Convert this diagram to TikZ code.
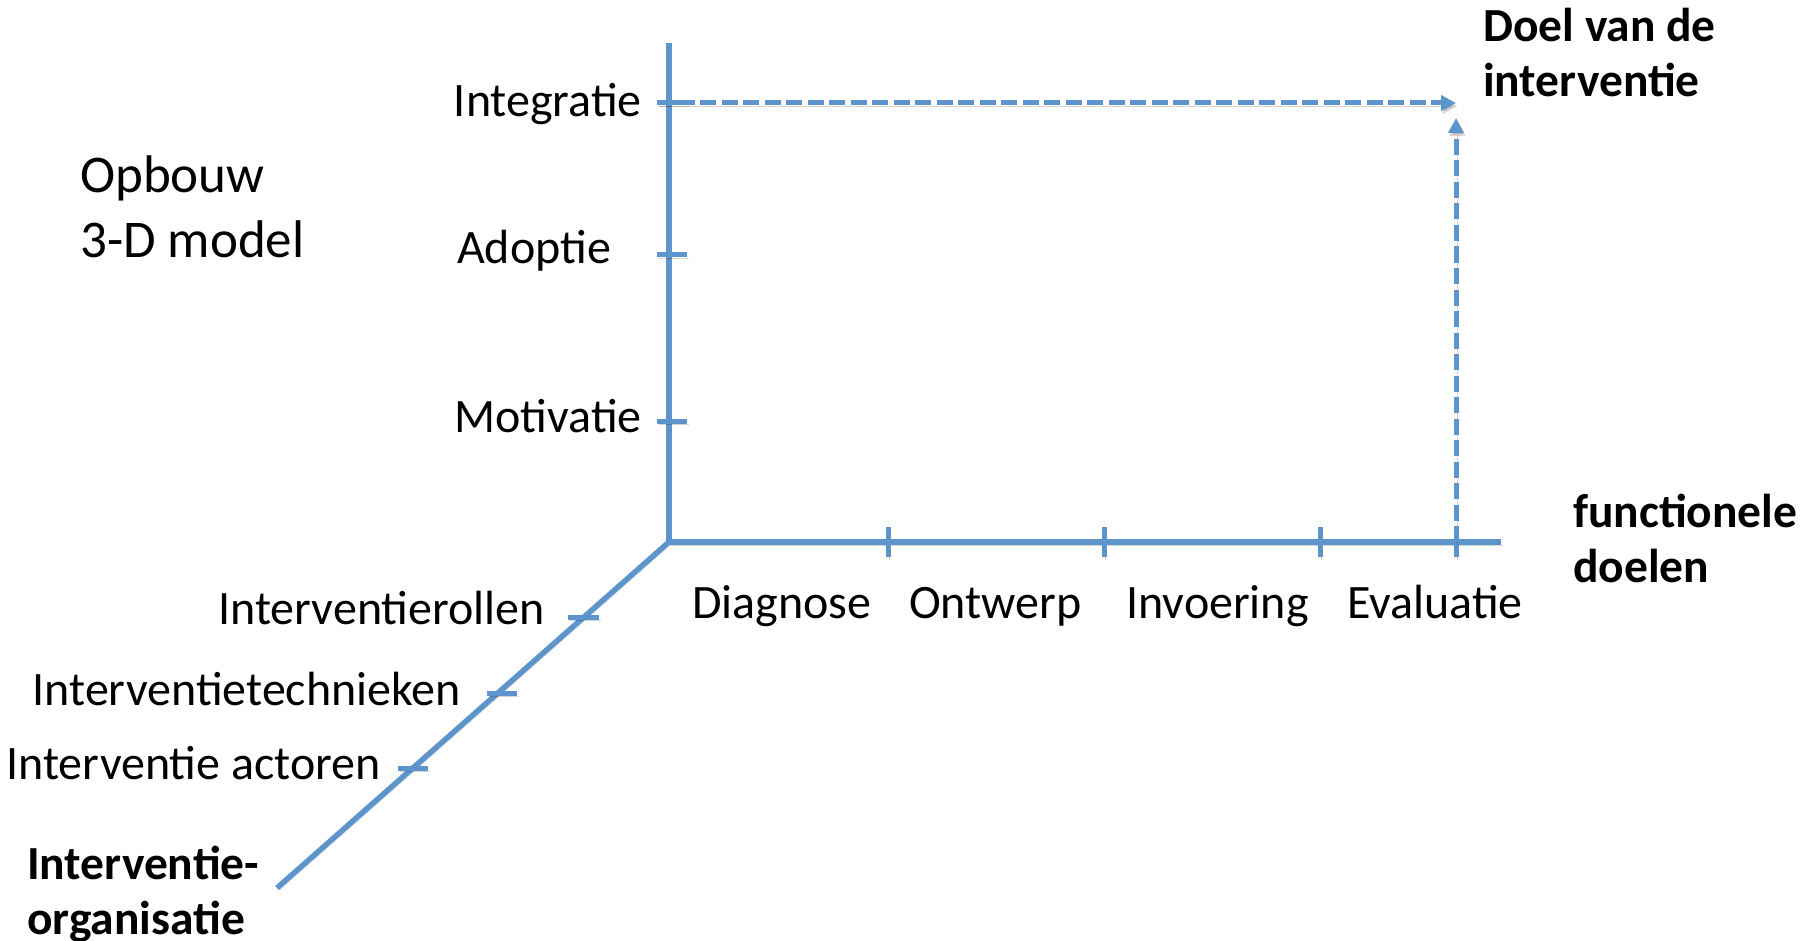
\documentclass[tikz,border=0pt]{standalone}
\usepackage{fontspec}
\setmainfont{Carlito}
\usetikzlibrary{arrows.meta}
\definecolor{axisblue}{RGB}{94,148,204}
\begin{document}
\begin{tikzpicture}[x=1pt,y=-1pt,
  shade/.style={preaction={draw=black,opacity=0.16,transform canvas={shift={(1.5,3)}}}},
  axisline/.style={draw=axisblue,line width=5.5pt,shade},
  tickline/.style={draw=axisblue,line width=5pt,shade},
  dashline/.style={draw=axisblue,line width=5pt,dash pattern=on 16pt off 5.5pt,
     -{Triangle[length=15pt,width=15pt]},shade},
  lbl/.style={inner sep=0pt,font=\fontsize{48}{56}\selectfont},
  blbl/.style={inner sep=0pt,font=\fontsize{47.5}{55}\selectfont\bfseries},
  tlbl/.style={inner sep=0pt,font=\fontsize{53}{65}\selectfont}]
\useasboundingbox (0,0) rectangle (1819,941);

% coordinates
\coordinate (O) at (669,542);
\coordinate (ytop) at (669,43);
\coordinate (xend) at (1501,542);
\coordinate (zend) at (277,888);
\coordinate (integ) at (657,103);
\coordinate (goalH) at (1456,103);
\coordinate (evalx) at (1456,542);
\coordinate (goalV) at (1456,118);

% axes
\draw[axisline,line join=miter] (ytop) -- (O) -- (xend);
\draw[axisline] (O) -- (zend);

% ticks on vertical axis
\draw[tickline] (657,103) -- (687,103);
\draw[tickline] (657,255) -- (687,255);
\draw[tickline] (657,421) -- (687,421);
% ticks on horizontal axis
\draw[tickline] (888,527) -- (888,557);
\draw[tickline] (1104,527) -- (1104,557);
\draw[tickline] (1320,527) -- (1320,557);
\draw[tickline] (1456,527) -- (1456,557);
% ticks on diagonal axis
\draw[tickline] (568,617) -- (599,617);
\draw[tickline] (487,693) -- (517,693);
\draw[tickline] (398,768) -- (428,768);

% dashed arrows
\draw[dashline] (integ) -- (goalH);
\draw[dashline] (evalx) -- (goalV);

% vertical axis labels
\node[lbl,anchor=base east] (lint) at (642,117) {Integratie};
\node[lbl,anchor=base west] (ladop) at (457,264) {Adoptie};
\node[lbl,anchor=base east] (lmot) at (642,432) {Motivatie};

% horizontal axis labels
\node[lbl,anchor=base west] (ldia) at (692,618) {Diagnose};
\node[lbl,anchor=base west] (lont) at (909,618) {Ontwerp};
\node[lbl,anchor=base west] (linv) at (1126,618) {Invoering};
\node[lbl,anchor=base west] (leva) at (1347,618) {Evaluatie};

% diagonal axis labels
\node[lbl,anchor=base east] (lrol) at (545,624) {Interventierollen};
\node[lbl,anchor=base east] (ltech) at (461,705) {Interventietechnieken};
\node[lbl,anchor=base east] (lact) at (381,779) {Interventie actoren};

% titles
\node[tlbl,anchor=base west] (title) at (80,193) {\vtop{\baselineskip=65pt\hbox{Opbouw}\hbox{3-D model}}};
\node[blbl,anchor=base west] (tdoel) at (1483,42) {\vtop{\baselineskip=55pt\hbox{Doel van de}\hbox{interventie}}};
\node[blbl,anchor=base west] (tfunc) at (1573,527) {\vtop{\baselineskip=55pt\hbox{functionele}\hbox{doelen}}};
\node[blbl,anchor=base west] (torg) at (27,879) {\vtop{\baselineskip=55pt\hbox{Interventie-}\hbox{organisatie}}};
\end{tikzpicture}
\end{document}
